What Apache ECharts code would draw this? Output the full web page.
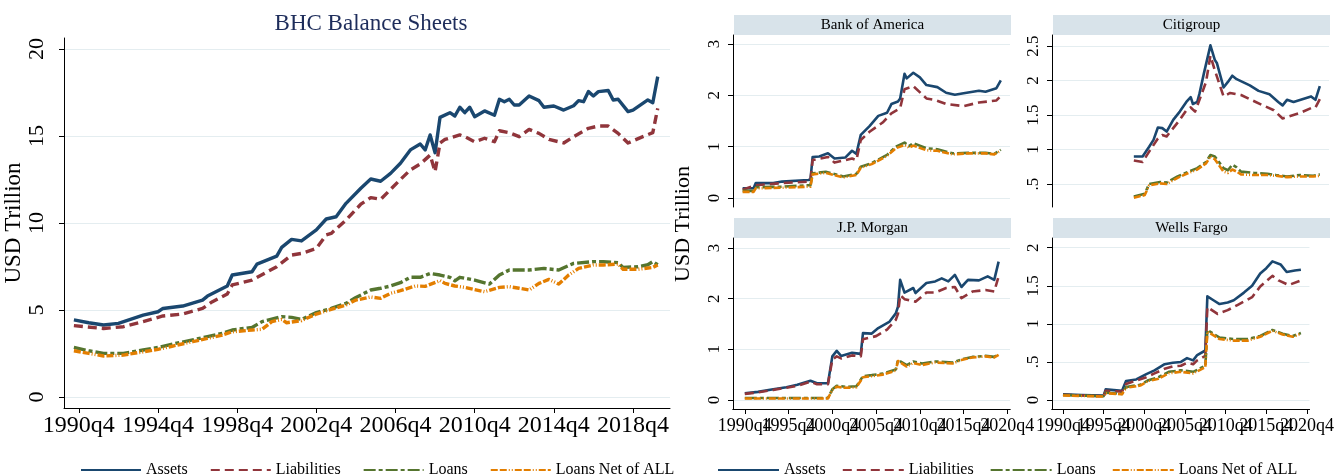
<!DOCTYPE html>
<html><head><meta charset="utf-8">
<script src="https://cdn.jsdelivr.net/npm/echarts@6/dist/echarts.min.js"></script>
<style>html,body{margin:0;padding:0;background:#fff}#c{width:1337px;height:475px}</style>
</head><body><div id="c"></div>
<script>
// ---------- DATA (quarter, USD trillion) ----------
const seriesNames = ["Assets", "Liabilities", "Loans", "Loans Net of ALL"];

const bhcAssets = [["1990q3",4.43],["1991q2",4.27],["1992q1",4.14],["1992q4",4.23],["1994q1",4.71],["1994q4",4.90],["1995q1",5.09],["1996q1",5.23],["1997q1",5.57],["1997q2",5.80],["1998q2",6.38],["1998q3",7.01],["1999q3",7.20],["1999q4",7.64],["2000q4",8.10],["2001q1",8.60],["2001q3",9.06],["2002q1",8.97],["2002q4",9.60],["2003q2",10.23],["2003q4",10.36],["2004q2",11.13],["2005q1",12.0],["2005q3",12.53],["2006q1",12.40],["2006q3",12.85],["2007q1",13.43],["2007q3",14.20],["2008q1",14.54],["2008q2",14.20],["2008q3",15.06],["2008q4",14.04],["2009q1",16.07],["2009q3",16.34],["2009q4",16.15],["2010q1",16.65],["2010q2",16.34],["2010q3",16.65],["2010q4",16.11],["2011q2",16.44],["2011q4",16.19],["2012q1",17.11],["2012q2",16.97],["2012q3",17.11],["2012q4",16.78],["2013q1",16.78],["2013q3",17.30],["2014q1",17.03],["2014q2",16.65],["2014q4",16.72],["2015q2",16.49],["2015q4",16.74],["2016q1",17.03],["2016q2",16.97],["2016q3",17.55],["2016q4",17.30],["2017q1",17.55],["2017q3",17.61],["2017q4",17.07],["2018q1",17.11],["2018q3",16.40],["2018q4",16.49],["2019q3",17.07],["2019q4",16.91],["2020q1",18.41]];
const bhcLiabilities = [["1990q3",4.10],["1992q1",3.94],["1993q1",4.04],["1994q1",4.33],["1995q1",4.66],["1996q1",4.77],["1997q1",5.09],["1997q3",5.48],["1998q2",5.92],["1998q3",6.44],["1999q3",6.72],["2000q4",7.49],["2001q3",8.16],["2002q1",8.25],["2002q4",8.54],["2003q2",9.31],["2003q3",9.40],["2004q2",10.17],["2005q1",11.08],["2005q3",11.46],["2006q1",11.36],["2006q3",11.93],["2007q1",12.50],["2007q3",13.05],["2008q1",13.39],["2008q3",13.90],["2008q4",12.95],["2009q1",14.60],["2009q2",14.80],["2010q1",15.06],["2010q2",14.96],["2010q4",14.67],["2011q2",14.87],["2011q4",14.67],["2012q1",15.30],["2012q3",15.19],["2013q1",14.96],["2013q3",15.38],["2014q1",15.15],["2014q3",14.80],["2015q2",14.60],["2015q4",14.96],["2016q3",15.44],["2017q1",15.57],["2017q3",15.57],["2018q1",15.15],["2018q3",14.60],["2019q2",14.96],["2019q4",15.19],["2020q1",16.59]];
const bhcLoans = [["1990q3",2.85],["1991q2",2.66],["1992q1",2.51],["1993q1",2.51],["1994q1",2.70],["1994q4",2.85],["1995q3",3.05],["1996q3",3.28],["1997q2",3.47],["1998q1",3.66],["1998q3",3.85],["1999q3",4.00],["2000q1",4.33],["2001q1",4.62],["2001q3",4.58],["2002q1",4.46],["2002q4",4.85],["2003q3",5.09],["2004q2",5.38],["2004q4",5.72],["2005q3",6.15],["2006q1",6.25],["2006q3",6.38],["2007q1",6.57],["2007q3",6.88],["2008q1",6.88],["2008q3",7.10],["2009q1",7.01],["2009q3",6.88],["2009q4",6.68],["2010q1",6.88],["2010q4",6.72],["2011q3",6.49],["2012q1",7.01],["2012q3",7.30],["2013q3",7.30],["2014q2",7.39],["2015q1",7.30],["2015q2",7.43],["2015q4",7.68],["2016q4",7.78],["2017q2",7.78],["2018q1",7.72],["2018q2",7.45],["2019q1",7.49],["2019q3",7.60],["2019q4",7.78],["2020q1",7.60]];
const bhcLoansNet = [["1990q3",2.66],["1991q2",2.51],["1992q1",2.36],["1993q1",2.41],["1994q1",2.60],["1994q4",2.74],["1995q3",2.93],["1996q3",3.18],["1997q2",3.37],["1998q1",3.56],["1998q3",3.75],["1999q3",3.85],["2000q1",3.89],["2000q3",4.33],["2001q1",4.46],["2001q2",4.27],["2002q1",4.39],["2002q4",4.77],["2003q3",5.04],["2004q2",5.29],["2004q4",5.57],["2005q3",5.75],["2006q1",5.67],["2006q3",5.96],["2007q1",6.11],["2007q4",6.38],["2008q2",6.36],["2009q1",6.69],["2009q2",6.53],["2009q4",6.38],["2010q2",6.30],["2011q2",6.05],["2012q1",6.30],["2012q3",6.34],["2013q1",6.25],["2013q3",6.15],["2014q1",6.53],["2014q3",6.76],["2015q1",6.49],["2015q3",7.01],["2016q1",7.39],["2016q4",7.59],["2017q2",7.59],["2018q1",7.64],["2018q2",7.34],["2019q1",7.34],["2019q4",7.45],["2020q1",7.59]];

const boaAssets = [["1990q3",0.19],["1991q4",0.19],["1992q1",0.29],["1994q1",0.29],["1995q1",0.32],["1998q1",0.35],["1998q2",0.36],["1998q3",0.80],["1999q2",0.81],["2000q2",0.87],["2001q1",0.77],["2002q2",0.79],["2003q1",0.92],["2003q3",0.86],["2004q1",1.23],["2005q1",1.40],["2006q1",1.60],["2007q1",1.66],["2007q3",1.83],["2008q2",1.88],["2008q3",1.94],["2009q1",2.42],["2009q2",2.33],["2010q1",2.44],["2010q4",2.35],["2011q3",2.20],["2012q4",2.16],["2013q4",2.05],["2014q4",2.01],["2015q4",2.04],["2017q3",2.09],["2018q2",2.07],["2019q3",2.14],["2020q1",2.29]];
const boaLiabilities = [["1990q3",0.16],["1992q1",0.25],["1995q1",0.29],["1998q1",0.32],["1998q2",0.33],["1998q3",0.74],["2000q2",0.80],["2001q1",0.69],["2003q1",0.77],["2003q3",0.74],["2004q1",1.13],["2005q1",1.29],["2006q3",1.47],["2007q3",1.65],["2008q3",1.75],["2009q1",2.12],["2010q1",2.18],["2011q3",1.94],["2012q3",1.91],["2013q4",1.83],["2015q4",1.79],["2017q3",1.86],["2019q3",1.90],["2020q1",1.99]];
const boaLoans = [["1990q3",0.14],["1991q4",0.14],["1992q1",0.21],["1995q1",0.22],["1998q1",0.25],["1998q2",0.25],["1998q3",0.48],["2000q1",0.51],["2002q1",0.42],["2003q3",0.47],["2004q1",0.61],["2005q2",0.68],["2007q1",0.84],["2008q1",1.00],["2009q1",1.08],["2009q3",1.01],["2010q1",1.07],["2011q3",0.97],["2012q4",0.95],["2014q3",0.87],["2016q2",0.88],["2018q2",0.88],["2019q2",0.86],["2020q1",0.94]];
const boaLoansNet = [["1990q3",0.12],["1991q4",0.12],["1992q1",0.19],["1995q1",0.20],["1998q1",0.22],["1998q2",0.22],["1998q3",0.46],["2000q1",0.49],["2002q1",0.40],["2003q3",0.45],["2004q1",0.59],["2005q2",0.66],["2007q1",0.82],["2008q1",0.97],["2009q1",1.03],["2009q3",0.98],["2010q1",1.02],["2011q3",0.93],["2012q4",0.92],["2014q3",0.85],["2016q2",0.87],["2018q2",0.87],["2019q2",0.85],["2020q1",0.92]];

const citiAssets = [["1998q4",0.90],["1999q4",0.90],["2000q3",1.04],["2001q1",1.14],["2001q3",1.32],["2002q1",1.31],["2002q3",1.26],["2003q2",1.43],["2004q1",1.55],["2004q4",1.69],["2005q2",1.76],["2005q3",1.66],["2006q1",1.69],["2006q2",1.81],["2006q4",2.10],["2007q3",2.51],["2008q1",2.30],["2008q2",2.25],["2009q1",1.90],["2009q3",1.98],["2010q1",2.07],["2010q3",2.02],["2012q1",1.93],["2013q1",1.85],["2014q2",1.80],["2015q2",1.69],["2015q4",1.64],["2016q2",1.72],["2017q1",1.69],["2018q1",1.73],["2019q1",1.77],["2019q3",1.72],["2020q1",1.92]];
const citiLiabilities = [["1998q4",0.84],["1999q4",0.82],["2000q3",0.97],["2001q3",1.16],["2002q1",1.21],["2002q3",1.19],["2004q1",1.43],["2004q4",1.57],["2005q2",1.61],["2005q4",1.55],["2006q2",1.72],["2007q1",1.98],["2007q3",2.36],["2008q1",2.15],["2009q1",1.77],["2009q4",1.82],["2011q1",1.79],["2012q1",1.73],["2013q3",1.64],["2014q4",1.57],["2015q4",1.45],["2016q3",1.48],["2017q4",1.53],["2019q1",1.60],["2019q3",1.61],["2020q1",1.73]];
const citiLoans = [["1998q4",0.32],["2000q1",0.36],["2000q3",0.50],["2001q4",0.53],["2002q3",0.52],["2003q4",0.61],["2005q1",0.68],["2006q1",0.73],["2007q1",0.82],["2007q3",0.92],["2008q1",0.90],["2009q1",0.73],["2009q3",0.70],["2010q1",0.78],["2010q3",0.74],["2011q1",0.68],["2012q3",0.66],["2014q1",0.65],["2015q1",0.63],["2016q2",0.61],["2017q4",0.63],["2019q2",0.62],["2020q1",0.64]];
const citiLoansNet = [["1998q4",0.30],["2000q1",0.34],["2000q3",0.48],["2001q4",0.51],["2002q3",0.50],["2003q4",0.59],["2005q1",0.66],["2006q1",0.71],["2007q1",0.80],["2007q3",0.90],["2008q1",0.86],["2009q1",0.68],["2009q3",0.66],["2010q1",0.71],["2010q3",0.68],["2011q1",0.64],["2012q3",0.63],["2014q1",0.63],["2015q1",0.62],["2016q2",0.60],["2017q4",0.61],["2019q2",0.61],["2020q1",0.62]];

const jpmAssets = [["1990q4",0.13],["1992q2",0.16],["1994q1",0.21],["1995q3",0.25],["1996q4",0.30],["1998q2",0.38],["1999q1",0.33],["2000q2",0.33],["2000q4",0.86],["2001q2",0.97],["2001q4",0.87],["2003q1",0.93],["2004q1",0.91],["2004q2",1.32],["2005q2",1.31],["2006q1",1.42],["2007q2",1.54],["2008q1",1.71],["2008q2",1.84],["2008q3",2.37],["2009q1",2.12],["2010q1",2.21],["2010q2",2.11],["2011q3",2.31],["2012q3",2.34],["2013q2",2.40],["2014q1",2.34],["2014q4",2.47],["2015q3",2.23],["2016q2",2.37],["2017q3",2.36],["2018q3",2.44],["2019q2",2.37],["2019q4",2.73]];
const jpmLiabilities = [["1990q4",0.12],["1992q2",0.15],["1994q1",0.20],["1995q3",0.24],["1996q4",0.28],["1998q2",0.36],["1999q1",0.31],["2000q2",0.31],["2000q4",0.80],["2001q2",0.86],["2001q4",0.82],["2003q1",0.88],["2004q1",0.86],["2004q2",1.20],["2005q4",1.26],["2007q1",1.39],["2008q1",1.58],["2008q2",1.70],["2008q3",2.07],["2009q1",1.99],["2010q2",1.94],["2011q3",2.12],["2012q3",2.12],["2013q4",2.21],["2014q4",2.23],["2015q3",2.01],["2016q4",2.14],["2018q2",2.17],["2019q2",2.14],["2019q4",2.44]];
const jpmLoans = [["1990q4",0.04],["2000q2",0.04],["2000q4",0.21],["2001q2",0.28],["2002q2",0.26],["2003q3",0.27],["2004q2",0.47],["2005q2",0.49],["2006q3",0.52],["2008q1",0.60],["2008q2",0.79],["2009q2",0.69],["2010q1",0.76],["2011q1",0.72],["2012q3",0.76],["2014q3",0.74],["2015q3",0.80],["2016q4",0.85],["2018q2",0.87],["2019q2",0.85],["2019q4",0.91]];
const jpmLoansNet = [["1990q4",0.03],["2000q2",0.03],["2000q4",0.20],["2001q2",0.26],["2002q2",0.24],["2003q3",0.25],["2004q2",0.45],["2005q2",0.47],["2006q3",0.50],["2008q1",0.58],["2008q2",0.77],["2009q2",0.66],["2010q1",0.73],["2011q1",0.69],["2012q3",0.74],["2014q3",0.72],["2015q3",0.79],["2016q4",0.84],["2018q2",0.86],["2019q2",0.84],["2019q4",0.89]];

const wfAssets = [["1990q4",0.075],["1993q1",0.066],["1995q4",0.057],["1996q1",0.14],["1998q1",0.12],["1998q3",0.25],["1999q4",0.27],["2001q1",0.34],["2002q1",0.39],["2003q2",0.47],["2004q2",0.49],["2005q2",0.50],["2006q1",0.55],["2006q4",0.52],["2007q2",0.59],["2008q2",0.65],["2008q3",1.36],["2009q2",1.31],["2010q1",1.26],["2011q1",1.28],["2011q4",1.31],["2013q1",1.41],["2014q1",1.50],["2015q1",1.66],["2015q4",1.73],["2016q3",1.82],["2017q3",1.78],["2018q2",1.68],["2019q2",1.70],["2020q1",1.71]];
const wfLiabilities = [["1990q4",0.07],["1993q1",0.06],["1995q4",0.05],["1996q1",0.12],["1998q1",0.11],["1998q3",0.21],["2001q1",0.30],["2002q1",0.35],["2003q2",0.41],["2004q2",0.44],["2005q2",0.45],["2006q1",0.49],["2006q4",0.47],["2007q2",0.52],["2008q2",0.58],["2008q3",1.22],["2009q4",1.13],["2011q1",1.18],["2012q2",1.25],["2014q1",1.35],["2015q1",1.49],["2016q3",1.63],["2017q2",1.57],["2018q3",1.51],["2020q1",1.57]];
const wfLoans = [["1990q4",0.066],["1995q4",0.05],["1996q1",0.096],["1998q1",0.08],["1998q3",0.17],["2000q2",0.20],["2001q2",0.26],["2002q3",0.30],["2003q4",0.37],["2005q2",0.39],["2006q4",0.37],["2008q2",0.45],["2008q3",0.92],["2010q1",0.82],["2011q4",0.80],["2013q3",0.80],["2015q1",0.84],["2016q3",0.92],["2017q4",0.87],["2019q1",0.84],["2020q1",0.88]];
const wfLoansNet = [["1990q4",0.06],["1995q4",0.045],["1996q1",0.09],["1998q1",0.075],["1998q3",0.16],["2000q2",0.19],["2001q2",0.25],["2002q3",0.28],["2003q4",0.35],["2005q2",0.37],["2006q4",0.35],["2008q2",0.43],["2008q3",0.90],["2010q1",0.80],["2011q4",0.78],["2013q3",0.78],["2015q1",0.83],["2016q3",0.91],["2017q4",0.86],["2019q1",0.83],["2020q1",0.87]];

const panelTitles = ["Bank of America", "Citigroup", "J.P. Morgan", "Wells Fargo"];
const mainXTicks = ["1990q4","1994q4","1998q4","2002q4","2006q4","2010q4","2014q4","2018q4"];
const mainYTicks = [0, 5, 10, 15, 20];
const panelXTicks = ["1990q4","1995q4","2000q4","2005q4","2010q4","2015q4","2020q4"];
const boaYTicks = [0, 1, 2, 3];
const citiYTicks = [0.5, 1, 1.5, 2, 2.5];
const jpmYTicks = [0, 1, 2, 3];
const wfYTicks = [0, 0.5, 1, 1.5, 2];

// ---------- HELPERS ----------
const FONT = "Liberation Serif";
const colors = ["#1a476f", "#90353b", "#55752f", "#e37e00"];
const dashes = ["solid", [9, 5], [12, 3, 4, 3], [7, 2, 7, 2, 1, 2, 1, 2]];
const GRID_COLOR = "#e4edf0";
function qx(s) { return +s.slice(0, 4) + (+s.slice(5) - 1) / 4; }
function qlabel(v) { const y = Math.floor(v + 1e-6); return y + "q" + (Math.round((v - y) * 4) + 1); }
function numLabel(v) { return (v > 0 && v < 1) ? String(v).replace(/^0/, "") : String(v); }

function mk(name, data, ai, width) {
  const i = seriesNames.indexOf(name);
  return {
    type: "line", name, xAxisIndex: ai, yAxisIndex: ai,
    data: data.map(d => [qx(d[0]), d[1]]),
    symbol: "none", showSymbol: false, silent: true,
    lineStyle: { color: colors[i], width, type: dashes[i], cap: "butt", join: "round" },
    itemStyle: { color: colors[i] }
  };
}

const grids = [
  { left: 64, top: 38, width: 606, height: 370 },
  { left: 733, top: 35, width: 277, height: 172 },
  { left: 1052, top: 35, width: 277, height: 172 },
  { left: 733, top: 238, width: 277, height: 171 },
  { left: 1052, top: 238, width: 277, height: 171 }
];

const yRanges = [[-0.63, 20.63], [-0.175, 3.175], [0.167, 2.66], [-0.178, 3.197], [-0.118, 2.127]];
const yTicks = [mainYTicks, boaYTicks, citiYTicks, jpmYTicks, wfYTicks];

function xAxisDef(gi, ticksQ, opts) {
  const isMain = gi === 0;
  const ticks = ticksQ.map(qx);
  return Object.assign({
    gridIndex: gi, type: "value", position: "bottom", offset: 0,
    min: isMain ? 1990.0 : 1989.4, max: isMain ? 2020.62 : 2021.05,
    axisLine: { show: true, onZero: false, lineStyle: { color: "#000", width: 1 } },
    axisTick: { show: true, length: 5, customValues: ticks, lineStyle: { color: "#000" } },
    axisLabel: { customValues: ticks, formatter: qlabel, fontFamily: FONT, fontSize: isMain ? 24 : 18,
                 color: "#000", margin: isMain ? 6 : 8, hideOverlap: false,
                 showMinLabel: true, showMaxLabel: true },
    splitLine: { show: false }
  }, opts || {});
}
const evenTicks = panelXTicks.filter((_, k) => k % 2 === 0);
const oddTicks = panelXTicks.filter((_, k) => k % 2 === 1);
const xAxes = [
  xAxisDef(0, mainXTicks),
  xAxisDef(1, panelXTicks, { show: false }),
  xAxisDef(2, panelXTicks, { show: false }),
  xAxisDef(3, evenTicks),
  xAxisDef(4, evenTicks),
  xAxisDef(3, oddTicks),
  xAxisDef(4, oddTicks)
];

const yAxes = grids.map((g, i) => {
  const isMain = i === 0;
  return {
    gridIndex: i, type: "value", min: yRanges[i][0], max: yRanges[i][1],
    name: isMain ? "USD Trillion" : "", nameLocation: "middle", nameGap: 24,
    nameTextStyle: { fontFamily: FONT, fontSize: 23, color: "#000" },
    axisLine: { show: true, lineStyle: { color: "#000", width: 1 } },
    axisTick: { show: true, length: 5, customValues: yTicks[i], lineStyle: { color: "#000" } },
    axisLabel: { customValues: yTicks[i], formatter: numLabel, rotate: 90, fontFamily: FONT,
                 fontSize: isMain ? 22 : 17, color: "#000", margin: isMain ? 16 : 10,
                 showMinLabel: true, showMaxLabel: true },
    splitLine: { show: true, lineStyle: { color: GRID_COLOR, width: 1 } }
  };
});

const groups = [
  [bhcAssets, bhcLiabilities, bhcLoans, bhcLoansNet],
  [boaAssets, boaLiabilities, boaLoans, boaLoansNet],
  [citiAssets, citiLiabilities, citiLoans, citiLoansNet],
  [jpmAssets, jpmLiabilities, jpmLoans, jpmLoansNet],
  [wfAssets, wfLiabilities, wfLoans, wfLoansNet]
];
const series = [];
groups.forEach((grp, gi) => grp.forEach((d, si) => series.push(mk(seriesNames[si], d, gi, gi === 0 ? 3.4 : 2.6))));

const graphics = [];
grids.slice(1).forEach((g, k) => {
  graphics.push({ type: "rect", x: g.left + 1, y: g.top - 20, shape: { x: 0, y: 0, width: g.width, height: 20 },
                  style: { fill: "#d8e3ea" }, silent: true });
  graphics.push({ type: "text", x: g.left + 1 + g.width / 2, y: g.top - 10,
                  style: { text: panelTitles[k], font: "15px " + FONT, fill: "#000", textAlign: "center", textVerticalAlign: "middle" },
                  silent: true });
});
graphics.push({ type: "text", x: 683, y: 224, rotation: Math.PI / 2,
                style: { text: "USD Trillion", font: "22px " + FONT, fill: "#000", textAlign: "center", textVerticalAlign: "middle" },
                silent: true });

const legendCommon = {
  data: seriesNames, itemHeight: 10, selectedMode: false, top: 457,
  itemStyle: { color: "rgba(0,0,0,0)", borderColor: "rgba(0,0,0,0)", borderWidth: 0, opacity: 0 },
  textStyle: { fontFamily: FONT, fontSize: 16, color: "#000" }
};

const chart = echarts.init(document.getElementById("c"), null, { renderer: "canvas" });
chart.setOption({
  animation: false,
  backgroundColor: "#fff",
  title: { text: "BHC Balance Sheets", left: 366, top: 7, textAlign: "center",
           textStyle: { fontFamily: FONT, fontSize: 23, fontWeight: "normal", color: "#1e2d5b" } },
  legend: [
    Object.assign({}, legendCommon, { left: 75, itemWidth: 60, itemGap: 22 }),
    Object.assign({}, legendCommon, { left: 712, itemWidth: 61, itemGap: 16 })
  ],
  grid: grids,
  xAxis: xAxes,
  yAxis: yAxes,
  graphic: graphics,
  series
});
</script></body></html>
